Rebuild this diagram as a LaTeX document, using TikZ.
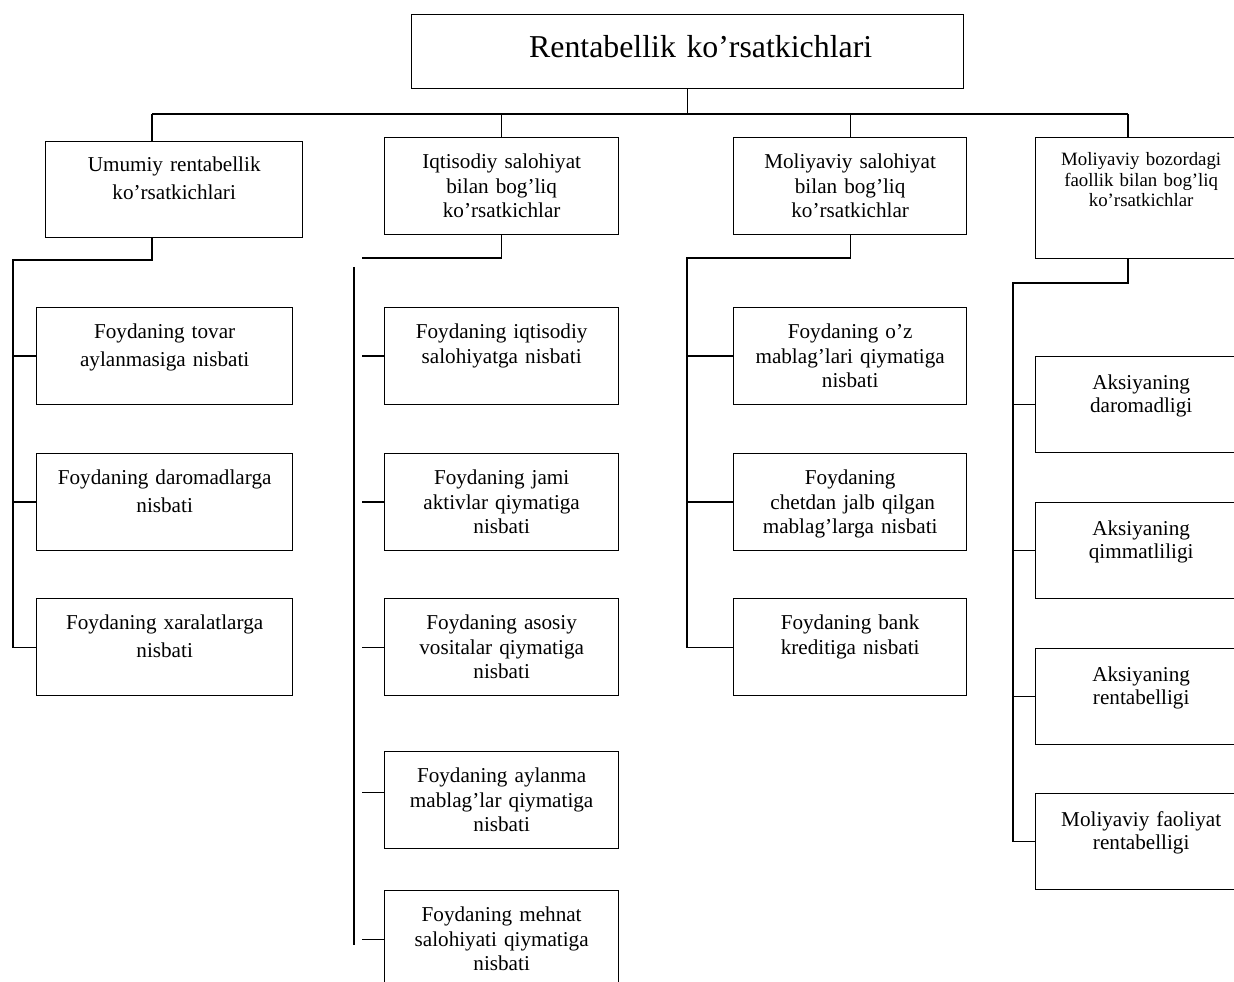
\documentclass[tikz,border=0pt]{standalone}
\usepackage{fontspec}
\setmainfont{Liberation Serif}
\usepackage{tikz}
\usetikzlibrary{positioning,calc}

\newcommand{\kattashrift}{\fontsize{19.1}{23}\selectfont}
\newcommand{\keng}{\fontsize{12.7}{16.8}\selectfont}
\newcommand{\oddiy}{\fontsize{12.7}{14.7}\selectfont}
\newcommand{\kichik}{\fontsize{11.3}{12.3}\selectfont}
\newcommand{\zich}{\fontsize{12.7}{13.8}\selectfont}

\begin{document}
\begin{tikzpicture}[x=0.6pt,y=-0.6pt,
	chiz/.style={line width=0.8pt},
	blok/.style={draw,line width=0.8pt,align=center,inner sep=0pt,anchor=north west,
		text height=18.6pt,text depth=39.6pt}]
	\useasboundingbox (0,0) rectangle (1234,982);
	\clip (0,0) rectangle (1234,982);
	
	\node[blok,text width=331.2pt,text height=26pt,text depth=18.4pt,font=\kattashrift] (bosh) at (411,14) {\hspace*{15.6pt}Rentabellik ko’rsatkichlari};
	
	\node[blok,text width=154.2pt,text height=18pt,text depth=39.6pt,font=\keng] (u1) at (45,141) {Umumiy rentabellik\\ko’rsatkichlari};
	\node[blok,text width=140.4pt,font=\oddiy] (u2) at (384,137) {Iqtisodiy salohiyat\\bilan bog’liq\\ko’rsatkichlar};
	\node[blok,text width=139.8pt,font=\oddiy] (u3) at (733,137) {Moliyaviy salohiyat\\bilan bog’liq\\ko’rsatkichlar};
	\node[blok,text width=126.6pt,text height=16.8pt,text depth=55.8pt,font=\kichik] (u4) at (1035,137) {Moliyaviy bozordagi\\faollik bilan bog’liq\\ko’rsatkichlar};
	
	\node[blok,text width=153.6pt,font=\keng] (a1) at (36,307) {Foydaning tovar\\aylanmasiga nisbati};
	\node[blok,text width=153.6pt,font=\keng] (a2) at (36,453) {Foydaning daromadlarga\\nisbati};
	\node[blok,text width=153.6pt,font=\keng] (a3) at (36,598) {Foydaning xaralatlarga\\nisbati};
	
	\node[blok,text width=140.4pt,font=\oddiy] (b1) at (384,307) {Foydaning iqtisodiy\\salohiyatga nisbati};
	\node[blok,text width=140.4pt,font=\oddiy] (b2) at (384,453) {Foydaning jami\\aktivlar qiymatiga\\nisbati};
	\node[blok,text width=140.4pt,font=\oddiy] (b3) at (384,598) {Foydaning asosiy\\vositalar qiymatiga\\nisbati};
	\node[blok,text width=140.4pt,font=\oddiy] (b4) at (384,751) {Foydaning aylanma\\mablag’lar qiymatiga\\nisbati};
	\node[blok,text width=140.4pt,font=\oddiy] (b5) at (384,890) {Foydaning mehnat\\salohiyati qiymatiga\\nisbati};
	
	\node[blok,text width=139.8pt,font=\oddiy] (c1) at (733,307) {Foydaning o’z\\mablag’lari qiymatiga\\nisbati};
	\node[blok,text width=139.8pt,font=\oddiy] (c2) at (733,453) {Foydaning\\\hspace*{3pt}chetdan jalb qilgan\\mablag’larga nisbati};
	\node[blok,text width=139.8pt,font=\oddiy] (c3) at (733,598) {Foydaning bank\\kreditiga nisbati};
	
	\node[blok,text width=126.6pt,text height=19.8pt,text depth=37.8pt,font=\zich] (d1) at (1035,356) {Aksiyaning\\daromadligi};
	\node[blok,text width=126.6pt,text height=19.8pt,text depth=37.8pt,font=\zich] (d2) at (1035,502) {Aksiyaning\\qimmatliligi};
	\node[blok,text width=126.6pt,text height=19.8pt,text depth=37.8pt,font=\zich] (d3) at (1035,648) {Aksiyaning\\rentabelligi};
	\node[blok,text width=126.6pt,text height=19.8pt,text depth=37.8pt,font=\zich] (d4) at (1035,793) {Moliyaviy faoliyat\\rentabelligi};
	
	\coordinate (t1) at (152,114);
	\coordinate (t4) at (1128,114);
	\draw[chiz] (bosh.south) -- (bosh.south |- t1);
	\draw[chiz] (t1) -- (t4);
	\draw[chiz] (t1) -- (t1 |- u1.north);
	\draw[chiz] (u2.north |- t1) -- (u2.north);
	\draw[chiz] (u3.north |- t1) -- (u3.north);
	\draw[chiz] (t4) -- (t4 |- u4.north);
	
	\coordinate (s1) at (13,260);
	\draw[chiz] (t1 |- u1.south) |- (s1) |- (a3.west);
	\foreach \k in {a1,a2}
	\draw[chiz] (s1 |- \k.west) -- (\k.west);
	
	\coordinate (s2) at (362,258);
	\coordinate (r2) at (354,267);
	\coordinate (r2e) at (354,945);
	\coordinate (q4) at ($(b4.west)+(0,-8)$);
	\draw[chiz] (u2.south) |- (s2);
	\draw[chiz] (r2) -- (r2e);
	\foreach \k in {b1,b2,b3,b5}
	\draw[chiz] (s2 |- \k.west) -- (\k.west);
	\draw[chiz] (s2 |- q4) -- (q4);
	
	\coordinate (s3) at (687,258);
	\draw[chiz] (u3.south) |- (s3) |- (c3.west);
	\foreach \k in {c1,c2}
	\draw[chiz] (s3 |- \k.west) -- (\k.west);
	
	\coordinate (s4) at (1013,283);
	\draw[chiz] (t4 |- u4.south) |- (s4) |- (d4.west);
	\foreach \k in {d1,d2,d3}
	\draw[chiz] (s4 |- \k.west) -- (\k.west);
\end{tikzpicture}
\end{document}
